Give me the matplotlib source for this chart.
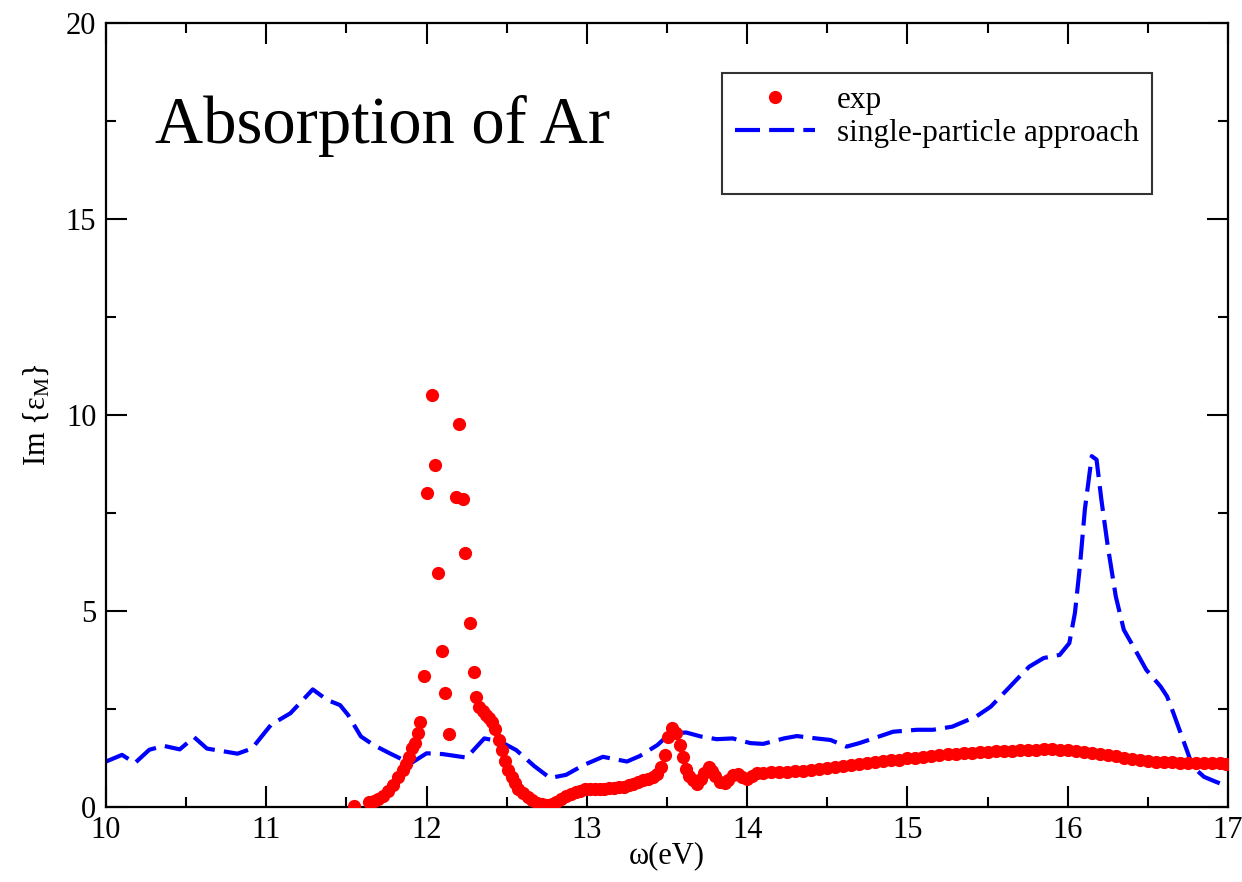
import matplotlib
matplotlib.use("Agg")
import matplotlib.pyplot as plt
from matplotlib.lines import Line2D
from matplotlib.ticker import MultipleLocator

plt.rcParams['font.family'] = ['Liberation Serif', 'DejaVu Serif']
plt.rcParams['mathtext.fontset'] = 'custom'
plt.rcParams['mathtext.rm'] = 'Liberation Serif'
plt.rcParams['mathtext.it'] = 'Liberation Serif:italic'

# Experimental absorption spectrum (eV, Im eps_M)
exp_energy = [
    11.55, 11.64, 11.67, 11.70, 11.73, 11.76, 11.79, 11.82, 11.85, 11.87,
    11.89, 11.91, 11.93, 11.945, 11.962, 11.984, 12.004, 12.034, 12.054, 12.073,
    12.094, 12.113, 12.143, 12.181, 12.202, 12.225, 12.241, 12.272, 12.294, 12.310,
    12.33, 12.35, 12.37, 12.39, 12.41, 12.43, 12.45, 12.47, 12.49, 12.51,
    12.53, 12.55, 12.57, 12.60, 12.63, 12.66, 12.69, 12.72, 12.75, 12.78,
    12.81, 12.84, 12.87, 12.90, 12.93, 12.96, 12.99, 13.02, 13.05, 13.08,
    13.11, 13.14, 13.17, 13.20, 13.23, 13.26, 13.29, 13.32, 13.35, 13.38,
    13.41, 13.44, 13.465, 13.487, 13.508, 13.533, 13.556, 13.578, 13.597, 13.62,
    13.64, 13.66, 13.69, 13.71, 13.73, 13.76, 13.78, 13.80, 13.83, 13.86,
    13.88, 13.91, 13.94, 13.97, 14.00, 14.03, 14.06, 14.10, 14.15, 14.20,
    14.25, 14.30, 14.35, 14.40, 14.45, 14.50, 14.55, 14.60, 14.65, 14.70,
    14.75, 14.80, 14.85, 14.90, 14.95, 15.00, 15.05, 15.10, 15.15, 15.20,
    15.25, 15.30, 15.35, 15.40, 15.45, 15.50, 15.55, 15.60, 15.65, 15.70,
    15.75, 15.80, 15.85, 15.90, 15.95, 16.00, 16.05, 16.10, 16.15, 16.20,
    16.25, 16.30, 16.35, 16.40, 16.45, 16.50, 16.55, 16.60, 16.65, 16.70,
    16.75, 16.80, 16.85, 16.90, 16.95, 16.99,
]
exp_im_eps = [
    0.03, 0.13, 0.16, 0.20, 0.28, 0.40, 0.57, 0.76, 0.95, 1.10,
    1.28, 1.50, 1.62, 1.88, 2.17, 3.33, 8.00, 10.50, 8.72, 5.98,
    3.97, 2.90, 1.86, 7.92, 9.76, 7.85, 6.47, 4.70, 3.44, 2.80,
    2.55, 2.45, 2.35, 2.27, 2.17, 2.00, 1.70, 1.45, 1.17, 0.95,
    0.77, 0.60, 0.47, 0.35, 0.25, 0.17, 0.11, 0.07, 0.05, 0.08,
    0.13, 0.20, 0.27, 0.33, 0.38, 0.42, 0.45, 0.46, 0.46, 0.46,
    0.47, 0.48, 0.49, 0.50, 0.52, 0.55, 0.58, 0.63, 0.68, 0.72,
    0.76, 0.83, 1.02, 1.32, 1.78, 2.02, 1.88, 1.58, 1.28, 0.96,
    0.80, 0.68, 0.58, 0.72, 0.88, 1.02, 0.92, 0.78, 0.65, 0.60,
    0.68, 0.82, 0.84, 0.76, 0.72, 0.80, 0.86, 0.88, 0.89, 0.90,
    0.90, 0.91, 0.93, 0.95, 0.98, 1.00, 1.03, 1.05, 1.08, 1.10,
    1.12, 1.14, 1.17, 1.19, 1.21, 1.24, 1.26, 1.28, 1.30, 1.32,
    1.34, 1.35, 1.37, 1.38, 1.40, 1.41, 1.42, 1.43, 1.44, 1.45,
    1.46, 1.46, 1.47, 1.47, 1.46, 1.45, 1.43, 1.40, 1.38, 1.35,
    1.32, 1.29, 1.26, 1.23, 1.20, 1.18, 1.16, 1.15, 1.14, 1.13,
    1.12, 1.12, 1.11, 1.11, 1.11, 1.10,
]

# Single-particle (independent-particle) calculation
sp_energy = [
    10.00, 10.10, 10.18, 10.27, 10.36, 10.46, 10.55, 10.63, 10.72, 10.82,
    10.91, 11.03, 11.15, 11.21, 11.29, 11.38, 11.46, 11.51, 11.59, 11.67,
    11.77, 11.90, 12.00, 12.10, 12.25, 12.36, 12.46, 12.56, 12.67, 12.77,
    12.87, 12.98, 13.10, 13.25, 13.33, 13.44, 13.52, 13.62, 13.71, 13.81,
    13.91, 14.02, 14.10, 14.23, 14.31, 14.43, 14.52, 14.62, 14.70, 14.81,
    14.91, 15.06, 15.16, 15.28, 15.43, 15.52, 15.60, 15.70, 15.76, 15.85,
    15.95, 16.01, 16.045, 16.076, 16.107, 16.15, 16.18, 16.21, 16.25, 16.30,
    16.35, 16.41, 16.49, 16.58, 16.62, 16.66, 16.72, 16.78, 16.85, 16.92,
    16.97,
]
sp_im_eps = [
    1.16, 1.33, 1.12, 1.46, 1.56, 1.47, 1.78, 1.49, 1.43, 1.36,
    1.49, 2.10, 2.39, 2.65, 3.00, 2.73, 2.60, 2.35, 1.80, 1.58,
    1.37, 1.11, 1.37, 1.35, 1.26, 1.75, 1.67, 1.45, 1.05, 0.74,
    0.82, 1.07, 1.28, 1.16, 1.30, 1.58, 1.88, 1.90, 1.80, 1.73,
    1.75, 1.63, 1.61, 1.75, 1.81, 1.75, 1.71, 1.54, 1.63, 1.78,
    1.92, 1.97, 1.97, 2.05, 2.31, 2.56, 2.90, 3.33, 3.58, 3.80,
    3.88, 4.18, 4.95, 6.14, 7.59, 8.95, 8.86, 7.84, 6.65, 5.37,
    4.52, 4.09, 3.50, 3.07, 2.82, 2.39, 1.71, 1.03, 0.77, 0.65,
    0.57,
]

fig = plt.figure(figsize=(12.42, 8.82), dpi=100)
ax = fig.add_axes([106 / 1242, 1 - 807 / 882, (1228 - 106) / 1242, (807 - 23) / 882])

ax.plot(sp_energy, sp_im_eps, color='#0000ff', lw=3.0, dashes=(6, 2.2),
        solid_joinstyle='round', dash_joinstyle='round',
        label='single-particle approach', zorder=2)
ax.plot(exp_energy, exp_im_eps, linestyle='none', marker='o', ms=9.5,
        color='#ff0000', markeredgewidth=0, label='exp', zorder=3)

ax.set_xlim(10, 17)
ax.set_ylim(0, 20)
ax.xaxis.set_major_locator(MultipleLocator(1))
ax.xaxis.set_minor_locator(MultipleLocator(0.5))
ax.yaxis.set_major_locator(MultipleLocator(5))
ax.yaxis.set_minor_locator(MultipleLocator(2.5))
ax.tick_params(which='both', direction='in', top=True, right=True,
               width=1.5, labelsize=22, colors='black')
ax.tick_params(which='major', length=15)
ax.tick_params(which='minor', length=7.5)
ax.tick_params(axis='x', which='major', pad=6.5)
ax.tick_params(axis='y', which='major', pad=7)
for sp in ax.spines.values():
    sp.set_linewidth(1.6)

ax.set_xlabel('ω(eV)', fontsize=22, labelpad=-3)
ax.set_ylabel('Im {ε$_\\mathrm{M}$}', fontsize=22, labelpad=10)

ax.text(155 / 1242, 1 - 143 / 882, 'Absorption of Ar', transform=fig.transFigure,
        fontsize=48, ha='left', va='baseline')

# Legend: markers first, then the dashed curve, with a blank row below
handles, labels = ax.get_legend_handles_labels()
order = [1, 0]
blank = Line2D([], [], linestyle='none', marker='none')
leg = ax.legend([handles[i] for i in order] + [blank],
                [labels[i] for i in order] + [' '],
                loc='upper left', bbox_to_anchor=((722 - 106) / 1122, 1 - (73 - 23) / 784),
                frameon=True, fancybox=False, edgecolor='black', fontsize=22.5,
                handlelength=2.55, handletextpad=0.7, borderpad=0.42,
                labelspacing=0.12, markerscale=1.0, borderaxespad=0)
leg.get_frame().set_linewidth(1.5)

fig.savefig('out.png', dpi=100)
